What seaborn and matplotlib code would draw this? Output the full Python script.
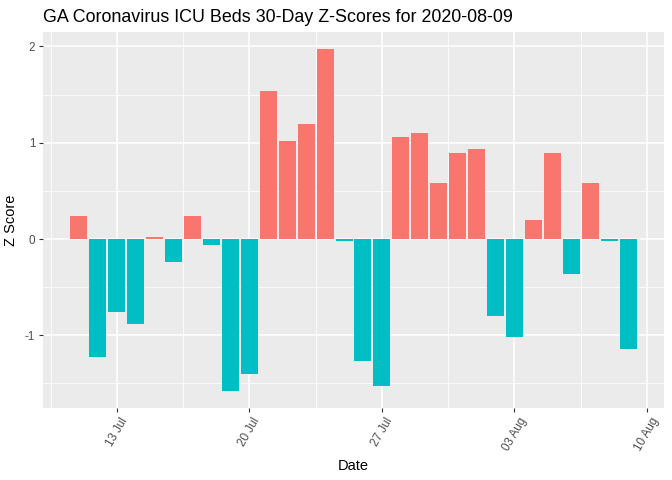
import matplotlib
matplotlib.use("Agg")
import matplotlib.pyplot as plt
import matplotlib.dates as mdates
from matplotlib.ticker import FixedLocator
import seaborn as sns
import pandas as pd
import numpy as np

dates = pd.date_range("2020-07-11", "2020-08-09", freq="D")
z_scores = [0.24, -1.23, -0.755, -0.88, 0.025, -0.235, 0.24, -0.06, -1.575, -1.40,
            1.54, 1.018, 1.194, 1.973, -0.02, -1.27, -1.53, 1.06, 1.10, 0.58,
            0.89, 0.935, -0.795, -1.015, 0.197, 0.89, -0.36, 0.58, -0.02, -1.14]
title = "GA Coronavirus ICU Beds 30-Day Z-Scores for 2020-08-09"

df = pd.DataFrame({
    "Date": mdates.date2num(dates.to_pydatetime()),
    "Z": z_scores,
})
df["pos"] = np.where(df["Z"] > 0, "pos", "neg")

sns.set_theme(style="darkgrid")
plt.rcParams["font.family"] = ["Liberation Sans", "DejaVu Sans"]

fig = plt.figure(figsize=(6.72, 4.8), dpi=100)
ax = fig.add_axes([43/672, 1 - 408/480, (664-43)/672, (408-32)/480])

sns.barplot(data=df, x="Date", y="Z", hue="pos",
            palette={"pos": "#F8766D", "neg": "#00BFC4"},
            native_scale=True, dodge=False, width=0.9, legend=False,
            saturation=1, ax=ax, linewidth=0)

ax.set_facecolor("#EBEBEB")
for s in ax.spines.values():
    s.set_visible(False)

x0 = mdates.date2num(pd.Timestamp("2020-07-09 02:24").to_pydatetime())
x1 = mdates.date2num(pd.Timestamp("2020-08-10 21:36").to_pydatetime())
ax.set_xlim(x0, x1)
ax.set_ylim(-1.755, 2.15)

major_dates = pd.to_datetime(["2020-07-13", "2020-07-20", "2020-07-27", "2020-08-03", "2020-08-10"])
major = mdates.date2num(major_dates.to_pydatetime())
minor = np.concatenate([[major[0] - 3.5], major + 3.5])
ax.xaxis.set_major_locator(FixedLocator(major))
ax.xaxis.set_minor_locator(FixedLocator(minor))
ax.xaxis.set_major_formatter(mdates.DateFormatter("%d %b"))
ax.yaxis.set_major_locator(FixedLocator([-1, 0, 1, 2]))
ax.yaxis.set_minor_locator(FixedLocator([-1.5, -0.5, 0.5, 1.5]))
ax.set_yticklabels(["-1", "0", "1", "2"])

ax.grid(which="major", color="white", linewidth=1.1)
ax.grid(which="minor", color="white", linewidth=0.55)
ax.set_axisbelow(True)

ax.tick_params(axis="both", which="major", length=3.0, width=0.8, color="#333333",
               labelcolor="#4D4D4D", labelsize=8.4, pad=2.5, bottom=True, left=True)
ax.tick_params(axis="both", which="minor", length=0)
for lab in ax.get_xticklabels():
    lab.set_rotation(60)
    lab.set_ha("center")

ax.set_xlabel("Date", fontsize=10.5, color="black", labelpad=4)
ax.set_ylabel("Z Score", fontsize=10.5, color="black", labelpad=5)

fig.text(43/672, 1 - 22/480, title, fontsize=12.9, color="black",
         ha="left", va="baseline")

fig.savefig("out.png", dpi=100)
